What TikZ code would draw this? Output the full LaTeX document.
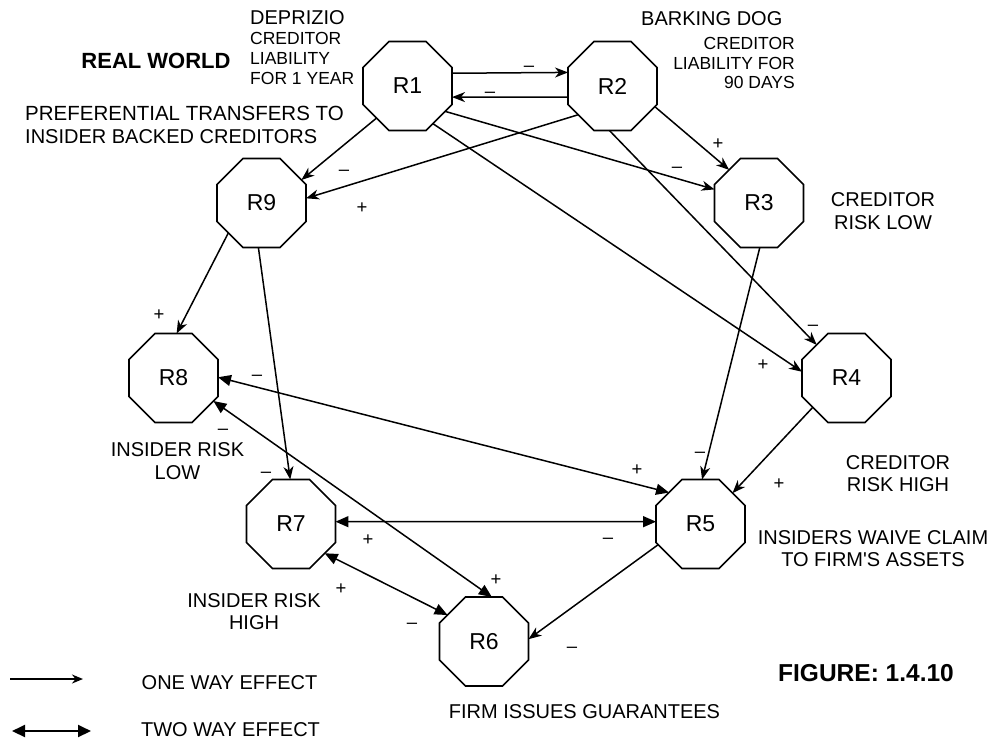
\documentclass[tikz,border=0pt]{standalone}
\usepackage{fontspec}
\setmainfont{Liberation Sans}[Ligatures=TeXOff]
\usetikzlibrary{arrows.meta,shapes.geometric}
\begin{document}
\begin{tikzpicture}[x=1pt,y=-1pt,
  oct/.style={draw, line width=1.6pt, regular polygon, regular polygon sides=8,
    minimum size=96.3pt, inner sep=0pt, outer sep=0pt, font=\fontsize{23}{23}\selectfont},
  one/.style={line width=1.5pt, -{Stealth[length=13pt,width=10pt,inset=4pt]}},
  two/.style={line width=1.5pt, {Triangle[length=13pt,width=11pt]}-{Triangle[length=13pt,width=11pt]}},
  lbl/.style={inner sep=0pt, font=\fontsize{20}{24}\selectfont},
  sml/.style={inner sep=0pt, font=\fontsize{17.5}{21}\selectfont},
  sgn/.style={inner sep=0pt, font=\fontsize{18.5}{18.5}\selectfont, anchor=base},
  bld/.style={inner sep=0pt, font=\bfseries\fontsize{22}{22}\selectfont}
]
\useasboundingbox (0,0) rectangle (992,740);

% nodes
\node[oct] (R1) at (407.5,86) {R1};
\node[oct] (R2) at (612.5,86) {R2};
\node[oct] (R3) at (759,203) {R3};
\node[oct] (R4) at (846.5,378) {R4};
\node[oct] (R5) at (700.5,524) {R5};
\node[oct] (R6) at (484,641.5) {R6};
\node[oct] (R7) at (291,524) {R7};
\node[oct] (R8) at (173.5,378) {R8};
\node[oct] (R9) at (261.5,203) {R9};

% connectors
\draw[one] (R1.16.3) -- (R2.163.7);
\draw[one] (R2.194) -- (R1.346);
\draw[one] (R1.226.4) -- (R9.30.9);
\draw[one] (R2.220) -- (R9.6.3);
\draw[one] (R1.326.6) -- (R3.163);
\draw[one] (R2.334.7) -- (R3.132.4);
\draw[one] (R1.304.6) -- (R4.172.3);
\draw[one] (R2.266.8) -- (R4.132);
\draw[one] (R3.271.3) -- (R5.88);
\draw[one] (R4.221.8) -- (R5.44.6);
\draw[one] (R9.222.8) -- (R8.86.8);
\draw[one] (R9.266.7) -- (R7.91.3);
\draw[two] (R8.1.3) -- (R5.135.4);
\draw[two] (R8.330.7) -- (R6.80);
\draw[two] (R7.3.9) -- (R5.177.4);
\draw[two] (R7.319.8) -- (R6.144.4);
\draw[one] (R5.206.3) -- (R6.3.3);

% signs
\node[sgn] (s1) at (529,71) {\textendash};
\node[sgn] (s2) at (490,97) {\textendash};
\node[sgn] (s3) at (344,175) {\textendash};
\node[sgn] (s4) at (362,213.5) {+};
\node[sgn] (s5) at (677,172) {\textendash};
\node[sgn] (s6) at (718,149.5) {+};
\node[sgn] (s7) at (763,370.5) {+};
\node[sgn] (s8) at (813,330) {\textendash};
\node[sgn] (s9) at (700,457) {\textendash};
\node[sgn] (s10) at (779,489.5) {+};
\node[sgn] (s11) at (159,320.5) {+};
\node[sgn] (s12) at (266,477) {\textendash};
\node[sgn] (s13) at (257,380) {\textendash};
\node[sgn] (s14) at (637,475.5) {+};
\node[sgn] (s15) at (223,434) {\textendash};
\node[sgn] (s16) at (496,585.5) {+};
\node[sgn] (s17) at (368,545.5) {+};
\node[sgn] (s18) at (608,543) {\textendash};
\node[sgn] (s19) at (341,594.5) {+};
\node[sgn] (s20) at (412,628) {\textendash};
\node[sgn] (s21) at (572,652) {\textendash};

% texts
\node[bld, anchor=base] (rw) at (156,68.9) {REAL WORLD};
\node[lbl, anchor=base west] (d1) at (250,24.2) {DEPRIZIO};
\node[sml, anchor=base west] (d2) at (250,44.5) {CREDITOR};
\node[sml, anchor=base west] (d3) at (250,64.5) {LIABILITY};
\node[sml, anchor=base west] (d4) at (250,84.8) {FOR 1 YEAR};
\node[lbl, font=\fontsize{20.5}{24}\selectfont, anchor=base west] (p1) at (25,120.5) {PREFERENTIAL TRANSFERS TO};
\node[lbl, anchor=base west] (p2) at (25,143.3) {INSIDER BACKED CREDITORS};
\node[lbl, anchor=base west] (b1) at (641,25) {BARKING DOG};
\node[sml, anchor=base east] (b2) at (795,49) {CREDITOR};
\node[sml, anchor=base east] (b3) at (795,69.3) {LIABILITY FOR};
\node[sml, anchor=base east] (b4) at (795,88.3) {90 DAYS};
\node[lbl, anchor=base] (c1) at (883,206.7) {CREDITOR};
\node[lbl, anchor=base] (c2) at (883,229.5) {RISK LOW};
\node[lbl, anchor=base] (i1) at (177.5,456.7) {INSIDER RISK};
\node[lbl, anchor=base] (i2) at (177.5,479.3) {LOW};
\node[lbl, anchor=base] (h1) at (898,469.3) {CREDITOR};
\node[lbl, anchor=base] (h2) at (898,491.7) {RISK HIGH};
\node[lbl, anchor=base] (w1) at (873,544) {INSIDERS WAIVE CLAIM};
\node[lbl, anchor=base] (w2) at (873,566.7) {TO FIRM'S ASSETS};
\node[bld, font=\bfseries\fontsize{24.5}{24.5}\selectfont, anchor=base] (fig) at (866,681.7) {FIGURE: 1.4.10};
\node[lbl, anchor=base] (k1) at (254,607.3) {INSIDER RISK};
\node[lbl, anchor=base] (k2) at (254,629.3) {HIGH};
\node[lbl, anchor=base] (g) at (584.5,718.3) {FIRM ISSUES GUARANTEES};
\node[lbl, anchor=base] (o) at (229.5,689.3) {ONE WAY EFFECT};
\node[lbl, anchor=base] (t) at (230.5,736.5) {TWO WAY EFFECT};

% legend
\coordinate (la) at (10,679);
\coordinate (lb) at (83,679);
\coordinate (lc) at (12,731);
\coordinate (ld) at (91,731);
\draw[line width=1.5pt, -{Stealth[length=11pt,width=9pt,inset=3.5pt]}] (la) -- (lb);
\draw[line width=2pt, {Triangle[length=13pt,width=12pt]}-{Triangle[length=13pt,width=12pt]}] (lc) -- (ld);
\end{tikzpicture}
\end{document}
